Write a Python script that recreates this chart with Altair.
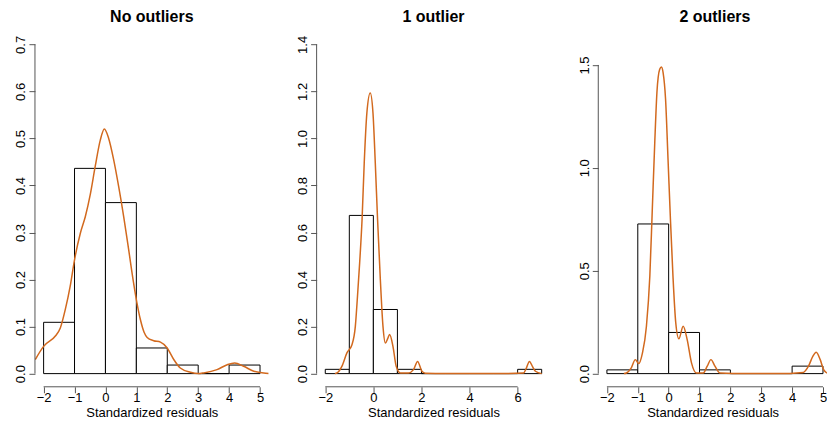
import altair as alt
import pandas as pd

FONT = "Liberation Sans"
ORANGE = "#D2691E"
AXC = "#555555"

titles = ["No outliers", "1 outlier", "2 outliers"]
x_title = "Standardized residuals"

# ---- panel 1: no outliers ----
p1_breaks = [-2, -1, 0, 1, 2, 3, 4, 5]
p1_density = [0.1091, 0.4364, 0.3636, 0.0545, 0.0182, 0.0, 0.0182]
p1_cx = [-2.27, -2.0, -1.62, -1.46, -1.30, -1.14, -1.0, -0.81, -0.65, -0.49, -0.33, -0.165,
         -0.035, 0.10, 0.265, 0.427, 0.59, 0.75, 0.91, 1.02, 1.13, 1.25, 1.35, 1.56, 1.78,
         1.99, 2.21, 2.42, 2.75, 3.0, 3.18, 3.61, 3.94, 4.18, 4.47, 4.80, 5.12, 5.28]
p1_cy = [0.030, 0.058, 0.080, 0.097, 0.136, 0.186, 0.242, 0.299, 0.334, 0.381, 0.441, 0.497,
         0.520, 0.501, 0.455, 0.398, 0.334, 0.264, 0.193, 0.150, 0.115, 0.088, 0.077, 0.070, 0.067,
         0.055, 0.030, 0.012, 0.003, 0.0, 0.0015, 0.0085, 0.019, 0.0227, 0.0156, 0.005, 0.0015, 0.0005]
p1_xticks = [-2, -1, 0, 1, 2, 3, 4, 5]
p1_yticks = [0.0, 0.1, 0.2, 0.3, 0.4, 0.5, 0.6, 0.7]

# ---- panel 2: 1 outlier ----
p2_breaks = [-2, -1, 0, 1, 2, 3, 4, 5, 6, 7]
p2_density = [0.0182, 0.6727, 0.2727, 0.0182, 0.0, 0.0, 0.0, 0.0, 0.0182]
p2_cx = [-1.6, -1.51, -1.31, -1.10, -0.89, -0.75, -0.66, -0.57, -0.47, -0.38, -0.27, -0.13,
         -0.016, 0.08, 0.175, 0.29, 0.40, 0.50, 0.60, 0.675, 0.815, 0.95, 1.12, 1.46, 1.67,
         1.84, 2.02, 2.16, 3.0, 4.0, 5.0, 6.25, 6.35, 6.49, 6.62, 6.74, 7.0]
p2_cy = [0.0, 0.003, 0.031, 0.088, 0.123, 0.201, 0.329, 0.471, 0.655, 0.896, 1.108, 1.193,
         1.108, 0.896, 0.655, 0.400, 0.201, 0.130, 0.150, 0.166, 0.116, 0.031, 0.003, 0.003, 0.017,
         0.052, 0.010, 0.002, 0.0, 0.0, 0.0, 0.003, 0.020, 0.052, 0.030, 0.010, 0.0]
p2_xticks = [-2, 0, 2, 4, 6]
p2_yticks = [0.0, 0.2, 0.4, 0.6, 0.8, 1.0, 1.2, 1.4]

# ---- panel 3: 2 outliers ----
p3_breaks = [-2, -1, 0, 1, 2, 3, 4, 5]
p3_density = [0.0182, 0.7273, 0.2000, 0.0182, 0.0, 0.0, 0.0364]
p3_cx = [-1.45, -1.37, -1.21, -1.08, -0.97, -0.85, -0.72, -0.61, -0.53, -0.45, -0.38, -0.29,
         -0.234, -0.18, -0.10, -0.02, 0.058, 0.14, 0.23, 0.33, 0.47, 0.60, 0.74, 0.90, 1.12,
         1.25, 1.37, 1.50, 1.66, 2.5, 3.5, 4.36, 4.53, 4.67, 4.78, 4.91, 5.02, 5.13]
p3_cy = [0.0, 0.003, 0.028, 0.068, 0.049, 0.100, 0.230, 0.473, 0.798, 1.123, 1.366, 1.479,
         1.490, 1.463, 1.333, 1.041, 0.749, 0.473, 0.247, 0.169, 0.230, 0.165, 0.052, 0.003, 0.003,
         0.036, 0.068, 0.036, 0.003, 0.0, 0.0, 0.006, 0.036, 0.084, 0.104, 0.068, 0.019, 0.003]
p3_xticks = [-2, -1, 0, 1, 2, 3, 4, 5]
p3_yticks = [0.0, 0.5, 1.0, 1.5]

H = 356


def expand(lo, hi):
    r = hi - lo
    return [lo - 0.04 * r, hi + 0.04 * r]


def panel(title, breaks, dens, cx, cy, xticks, yticks, ytop, width, xmax=None, tdx=0):
    xdom = expand(breaks[0], breaks[-1])
    if xmax is not None:
        xdom = [xdom[0], xmax]
    ydom = expand(0, ytop)
    xs = alt.Scale(domain=xdom, nice=False, zero=False)
    ys = alt.Scale(domain=ydom, nice=False, zero=False)
    xaxis = alt.Axis(values=xticks, format="d", title=x_title, domain=False, grid=False,
                     tickSize=6, tickColor=AXC, tickWidth=1, labelFont=FONT, labelFontSize=13,
                     labelColor="black", labelBaseline="alphabetic", labelPadding=8.5,
                     labelFlush=False, labelOverlap=False, titleFont=FONT, titleFontSize=13,
                     titleFontWeight="normal", titleColor="black", titleBaseline="alphabetic",
                     titleY=29.5)
    yaxis = alt.Axis(values=yticks, format=".1f", title=None, domain=False, grid=False,
                     tickSize=6, tickColor=AXC, tickWidth=1, labelFont=FONT, labelFontSize=13,
                     labelColor="black", labelAngle=-90, labelAlign="center",
                     labelBaseline="alphabetic", labelPadding=4, labelFlush=False,
                     labelOverlap=False)
    bars = pd.DataFrame({"x0": breaks[:-1], "x1": breaks[1:], "d": dens})
    curve = pd.DataFrame({"x": cx, "y": cy})
    xline = pd.DataFrame({"a": [min(xticks)], "b": [max(xticks)]})
    yline = pd.DataFrame({"a": [min(yticks)], "b": [max(yticks)]})

    hist = alt.Chart(bars).mark_rect(fill="white", stroke="black", strokeWidth=1).encode(
        x=alt.X("x0:Q", scale=xs, axis=xaxis), x2="x1:Q",
        y=alt.Y("d:Q", scale=ys, axis=yaxis), y2=alt.datum(0))
    dens_line = alt.Chart(curve).mark_line(color=ORANGE, strokeWidth=1.5,
                                           interpolate="monotone", clip=True).encode(
        x=alt.X("x:Q", scale=xs, axis=xaxis), y=alt.Y("y:Q", scale=ys, axis=yaxis))
    xrule = alt.Chart(xline).mark_rule(color=AXC, strokeWidth=1).encode(
        x=alt.X("a:Q", scale=xs, axis=xaxis), x2="b:Q", y=alt.value(H))
    yrule = alt.Chart(yline).mark_rule(color=AXC, strokeWidth=1).encode(
        y=alt.Y("a:Q", scale=ys, axis=yaxis), y2="b:Q", x=alt.value(0))
    return alt.layer(hist, dens_line, xrule, yrule).properties(
        width=width, height=H,
        title=alt.TitleParams(title, font=FONT, fontSize=16, fontWeight="bold", color="black",
                              anchor="middle", baseline="alphabetic", offset=-7, dx=tdx))


c1 = panel(titles[0], p1_breaks, p1_density, p1_cx, p1_cy, p1_xticks, p1_yticks, 0.7, 234)
c2 = panel(titles[1], p2_breaks, p2_density, p2_cx, p2_cy, p2_xticks, p2_yticks, 1.4, 234)
c3 = panel(titles[2], p3_breaks, p3_density, p3_cx, p3_cy, p3_xticks, p3_yticks, 1.6, 229,
           xmax=5.13, tdx=2.3)

chart = alt.hconcat(c1, c2, c3, spacing=48, bounds="flush").configure_view(
    stroke=None).properties(padding={"left": 14, "top": 9, "right": 0, "bottom": 0},
                            background="white")

chart.save("out.html", embed_options={"renderer": "svg", "actions": False})
